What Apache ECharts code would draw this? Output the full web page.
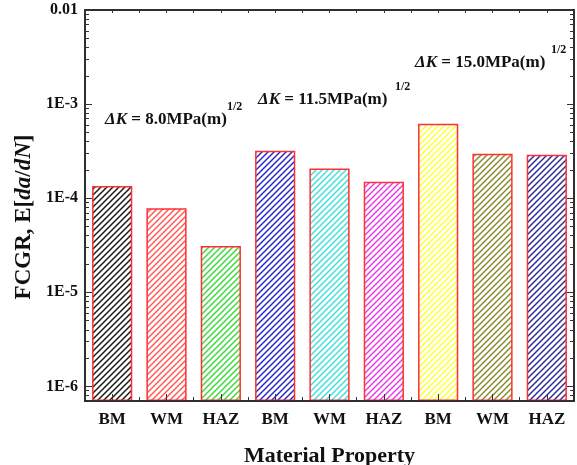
<!DOCTYPE html>
<html>
<head>
<meta charset="utf-8">
<script src="https://cdn.jsdelivr.net/npm/echarts@6/dist/echarts.min.js"></script>
<style>
  html, body { margin: 0; padding: 0; background: #fff; }
  #chart { width: 577px; height: 465px; }
</style>
</head>
<body>
<div id="chart"></div>
<script>
// 数据
const categories = ["BM", "WM", "HAZ", "BM", "WM", "HAZ", "BM", "WM", "HAZ"];
const fcgrValues = [1.35e-4, 7.8e-5, 3.1e-5, 3.2e-4, 2.07e-4, 1.5e-4, 6.2e-4, 2.96e-4, 2.89e-4];
const majorTicks = [1e-6, 1e-5, 1e-4, 1e-3, 1e-2];
const majorTickLabels = ["1E-6", "1E-5", "1E-4", "1E-3", "0.01"];
const deltaKLabels = ["8.0", "11.5", "15.0"];

const hatchColors = ["#1a1a1a", "#ff5a5a", "#3fd83f", "#2a2acc", "#44dede", "#e83ee8", "#ffff3a", "#8a8a30", "#2e2e9a"];
const FONT = "'Liberation Serif', 'Times New Roman', serif";
const Y_MIN = 7e-7;
const Y_MAX = 1e-2;

// 对数坐标的次刻度 2..9
const minorTicks = [];
for (let e = -7; e <= -3; e++) {
  for (let k = 2; k <= 9; k++) {
    const v = k * Math.pow(10, e);
    if (v > Y_MIN && v < Y_MAX) minorTicks.push(v);
  }
}

// 斜线填充
const makeHatch = (color) => {
  const s = 6;
  const c = document.createElement("canvas");
  c.width = s;
  c.height = s;
  const ctx = c.getContext("2d");
  ctx.fillStyle = "#fff";
  ctx.fillRect(0, 0, s, s);
  ctx.strokeStyle = color;
  ctx.lineWidth = 1.5;
  ctx.beginPath();
  ctx.moveTo(-1, s + 1); ctx.lineTo(s + 1, -1);
  ctx.moveTo(-1, 1); ctx.lineTo(1, -1);
  ctx.moveTo(s - 1, s + 1); ctx.lineTo(s + 1, s - 1);
  ctx.stroke();
  return c;
};

const labelFor = (v) => {
  const i = majorTicks.findIndex((t) => Math.abs(Math.log10(v) - Math.log10(t)) < 1e-6);
  return i >= 0 ? majorTickLabels[i] : "";
};

const axisLineStyle = { color: "#222", width: 1.5 };

const yAxisBase = (position, withLabels, ticks, len) => ({
  type: "log",
  position: position,
  min: Y_MIN,
  max: Y_MAX,
  startValue: Y_MIN,
  axisLine: { show: true, lineStyle: axisLineStyle },
  splitLine: { show: false },
  axisTick: { show: true, inside: true, length: len, customValues: ticks, lineStyle: { color: "#333", width: 1 } },
  axisLabel: withLabels
    ? { show: true, margin: 7, customValues: majorTicks, formatter: labelFor, fontFamily: FONT, fontWeight: "bold", fontSize: 16, color: "#111" }
    : { show: false },
});

const xAxisBase = (position, withLabels, center, len, z) => ({
  type: "category",
  position: position,
  data: categories,
  z: z,
  axisLine: { show: true, lineStyle: axisLineStyle },
  axisTick: { show: true, inside: true, length: len, alignWithLabel: center, lineStyle: { color: "#333", width: 1 } },
  axisLabel: withLabels
    ? { show: true, margin: 10, fontFamily: FONT, fontWeight: "bold", fontSize: 17, color: "#111" }
    : { show: false },
  splitLine: { show: false },
});

const myChart = echarts.init(document.getElementById("chart"));

const bottomAxis = xAxisBase("bottom", true, false, 4, 0);
bottomAxis.name = "Material Property";
bottomAxis.nameLocation = "middle";
bottomAxis.nameGap = 44;
bottomAxis.nameTextStyle = { fontFamily: FONT, fontWeight: "bold", fontSize: 22, color: "#111" };

const annotations = [
  { x: 105, y: 120, sx: 227, sy: 107 },
  { x: 258, y: 100, sx: 395, sy: 87 },
  { x: 415, y: 63, sx: 551, sy: 50 },
];

const textStyleRich = {
  i: { fontFamily: FONT, fontWeight: "bold", fontStyle: "italic", fontSize: 17, fill: "#111" },
  n: { fontFamily: FONT, fontWeight: "bold", fontSize: 17, fill: "#111" },
};

const graphics = [];
annotations.forEach((a, idx) => {
  graphics.push({
    type: "text",
    x: a.x,
    y: a.y,
    style: {
      text: "{i|ΔK}{n| = " + deltaKLabels[idx] + "MPa(m)}",
      rich: textStyleRich,
      align: "left",
      verticalAlign: "middle",
    },
  });
  graphics.push({
    type: "text",
    x: a.sx,
    y: a.sy,
    style: {
      text: "1/2",
      fontFamily: FONT,
      fontWeight: "bold",
      fontSize: 12,
      fill: "#111",
      align: "left",
      verticalAlign: "middle",
    },
  });
});

graphics.push({
  type: "text",
  x: 24,
  y: 217,
  rotation: Math.PI / 2,
  style: {
    text: "{n|FCGR, E[}{i|da}{n|/}{i|dN}{n|]}",
    rich: {
      i: { fontFamily: FONT, fontWeight: "bold", fontStyle: "italic", fontSize: 23, fill: "#111" },
      n: { fontFamily: FONT, fontWeight: "bold", fontSize: 23, fill: "#111" },
    },
    align: "center",
    verticalAlign: "middle",
  },
});

const options = {
  animation: false,
  backgroundColor: "#fff",
  grid: { left: 85, right: 3, top: 10, bottom: 64, outerBoundsMode: "none", containLabel: false },
  xAxis: [
    bottomAxis,
    xAxisBase("bottom", false, true, 7, 5),
    xAxisBase("top", false, false, 3, 0),
    xAxisBase("top", false, true, 3, 0),
  ],
  yAxis: [
    yAxisBase("left", true, majorTicks, 7),
    yAxisBase("left", false, minorTicks, 4),
    yAxisBase("right", false, majorTicks, 7),
    yAxisBase("right", false, minorTicks, 4),
  ],
  graphic: graphics,
  series: [
    {
      type: "bar",
      xAxisIndex: 0,
      yAxisIndex: 0,
      barWidth: "74%",
      data: fcgrValues.map((v, i) => ({
        value: v,
        itemStyle: {
          color: { image: makeHatch(hatchColors[i]), repeat: "repeat" },
          borderColor: "#ff3030",
          borderWidth: 1.5,
        },
      })),
    },
  ],
};
options && myChart.setOption(options);
</script>
</body>
</html>
